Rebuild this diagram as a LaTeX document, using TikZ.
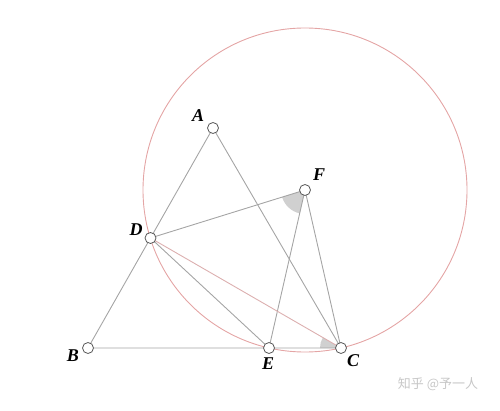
\documentclass[tikz,border=0pt]{standalone}
\usepackage{fontspec}
\usetikzlibrary{calc}
\setmainfont{Liberation Serif}
\newfontfamily\cjk{Noto Sans CJK SC}
\definecolor{lin}{RGB}{165,165,165}
\definecolor{pinkc}{RGB}{228,165,165}
\definecolor{pinkl}{RGB}{220,175,175}
\definecolor{wedge}{RGB}{208,208,208}
\begin{document}
\begin{tikzpicture}[x=1pt,y=-1pt,
  seg/.style={draw=lin,line width=0.9pt},
  pt/.style={circle,draw=black!65,fill=white,line width=0.8pt,minimum size=11pt,inner sep=0pt},
  lab/.style={font=\fontsize{18}{18}\selectfont\bfseries\itshape,inner sep=0pt},
  wm/.style={font=\cjk\fontsize{13}{13}\selectfont,text=black!22,inner sep=0pt}]
\useasboundingbox (0,0) rectangle (500,411);
\coordinate (A) at (213,128);
\coordinate (B) at (88,348);
\coordinate (C) at (341,348);
\coordinate (D) at (150.5,238);
\coordinate (E) at (269,348);
\coordinate (F) at (305,190);
% circle centred at F through D
\draw[pinkc,line width=0.9pt] (F) circle (162);
% angle wedges
\fill[wedge] (F) -- ($(F)!24pt!(D)$) arc[start angle=162.7,end angle=102.8,radius=24] -- cycle;
\fill[wedge] (C) -- ($(C)!21pt!(B)$) arc[start angle=180,end angle=210,radius=21] -- cycle;
% segments
\draw[seg] (A) -- (B) -- (C) -- cycle;
\draw[seg] (D) -- (F) -- (C);
\draw[seg] (D) -- (E) -- (F);
\draw[pinkl,line width=0.9pt] (D) -- (C);
% points
\node[pt] (nA) at (A) {};
\node[pt] (nB) at (B) {};
\node[pt] (nC) at (C) {};
\node[pt] (nD) at (D) {};
\node[pt] (nE) at (E) {};
\node[pt] (nF) at (F) {};
% labels
\node[lab] (lA) at (198,116) {A};
\node[lab] (lB) at (73,356) {B};
\node[lab] (lC) at (353,361) {C};
\node[lab] (lD) at (136,230) {D};
\node[lab] (lE) at (268,364) {E};
\node[lab] (lF) at (319,175) {F};
\node[wm] (wm) at (438,384) {知乎 @予一人};
\end{tikzpicture}
\end{document}
